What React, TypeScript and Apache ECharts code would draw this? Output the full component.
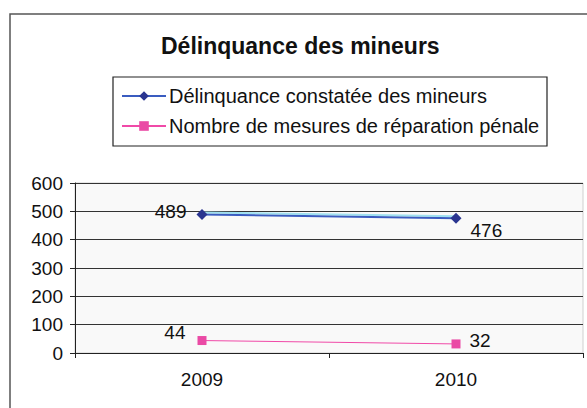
import React, { useEffect, useRef } from "react";
import * as echarts from "echarts";

const categories = ["2009", "2010"];
const delinquance = [489, 476];
const reparation = [44, 32];
const seriesNames = [
  "Délinquance constatée des mineurs",
  "Nombre de mesures de réparation pénale",
];
const titleText = "Délinquance des mineurs";

const FONT = "'Liberation Sans', Arial, sans-serif";

export default function App() {
  const ref = useRef<HTMLDivElement>(null);
  useEffect(() => {
    if (!ref.current) return;
    const chart = echarts.init(ref.current, undefined, { renderer: "svg" });
    chart.setOption({
      animation: false,
      backgroundColor: "#ffffff",
      textStyle: { fontFamily: FONT },
      title: {
        text: titleText,
        left: 161,
        top: 34,
        padding: 0,
        textStyle: { fontSize: 23, fontWeight: "bold", color: "#111", fontFamily: FONT },
      },
      legend: {
        orient: "vertical",
        left: 121,
        top: 86,
        padding: 0,
        itemWidth: 44,
        itemHeight: 12,
        itemGap: 10,
        textStyle: { fontSize: 20, color: "#111", lineHeight: 20, fontFamily: FONT, padding: [0, 0, 0, -2] },
        data: seriesNames,
      },
      graphic: [
        {
          type: "rect",
          shape: { x: 10, y: 14, width: 620, height: 430 },
          style: { fill: "none", stroke: "#555", lineWidth: 1.5 },
          silent: true,
          z: 100,
        },
        {
          type: "rect",
          shape: { x: 113, y: 77, width: 434, height: 69 },
          style: { fill: "none", stroke: "#222", lineWidth: 1.2 },
          silent: true,
          z: 100,
        },
      ],
      grid: {
        left: 75,
        right: 4,
        top: 183,
        bottom: 55,
        show: true,
        backgroundColor: "#f9f9f9",
        borderColor: "#cfcfcf",
        borderWidth: 1,
      },
      xAxis: {
        type: "category",
        data: categories,
        boundaryGap: true,
        axisLine: { show: true, lineStyle: { color: "#222", width: 1 } },
        axisTick: { show: true, length: 5, inside: false, lineStyle: { color: "#222" } },
        axisLabel: { fontSize: 19, color: "#111", margin: 17, fontFamily: FONT },
        splitLine: { show: false },
      },
      yAxis: {
        type: "value",
        min: 0,
        max: 600,
        interval: 100,
        axisLine: { show: true, lineStyle: { color: "#222", width: 1 } },
        axisTick: { show: true, length: 5, lineStyle: { color: "#222" } },
        axisLabel: { fontSize: 19, color: "#111", margin: 12, fontFamily: FONT },
        splitLine: { show: true, lineStyle: { color: "#333", width: 1 } },
      },
      series: [
        {
          name: seriesNames[0],
          type: "line",
          data: delinquance,
          symbol: "diamond",
          symbolSize: 11,
          itemStyle: { color: "#2a3590" },
          lineStyle: { color: "#3a5cc0", width: 2, shadowColor: "#9fe0f0", shadowBlur: 0, shadowOffsetY: -2 },
          label: {
            show: true,
            fontSize: 19,
            color: "#111",
            fontFamily: FONT,
            formatter: (p: any) => String(p.value),
            position: "left",
          },
          labelLayout: (params: any) => {
            return params.dataIndex === 0
              ? { dx: -2, dy: -4 }
              : { dx: 0, dy: 12 };
          },
          z: 3,
        },
        {
          name: seriesNames[1],
          type: "line",
          data: reparation,
          symbol: "rect",
          symbolSize: 9,
          itemStyle: { color: "#ea4aa5" },
          lineStyle: { color: "#f04aa8", width: 1 },
          label: {
            show: true,
            fontSize: 19,
            color: "#111",
            fontFamily: FONT,
            formatter: (p: any) => String(p.value),
            position: "left",
          },
          z: 3,
        },
      ],
    });
    // per-point label positions
    chart.setOption({
      series: [
        {
          data: [
            { value: delinquance[0], label: { position: "left", distance: 10, offset: [0, -3] } },
            { value: delinquance[1], label: { position: "right", distance: 9, offset: [0, 12] } },
          ],
          labelLayout: null,
        },
        {
          data: [
            { value: reparation[0], label: { position: "left", distance: 12, offset: [0, -8] } },
            { value: reparation[1], label: { position: "right", distance: 9, offset: [0, -3] } },
          ],
        },
      ],
    });
    return () => chart.dispose();
  }, []);
  return (
    <div
      ref={ref}
      style={{ position: "fixed", left: 0, top: 0, width: 587, height: 408 }}
    />
  );
}
